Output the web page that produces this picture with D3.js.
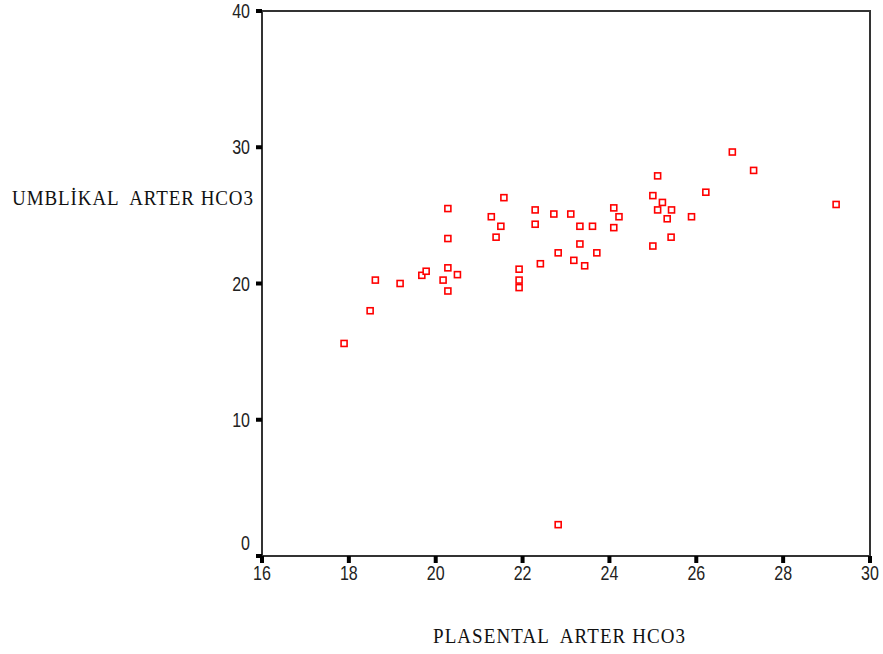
<!DOCTYPE html>
<html>
<head>
<meta charset="utf-8">
<script src="https://cdn.jsdelivr.net/npm/d3@7"></script>
<style>
  html, body { margin: 0; padding: 0; background: #fff; }
  svg { display: block; }
</style>
</head>
<body>
<svg id="chart" width="883" height="654"></svg>
<script>
// Data: plasental arter HCO3 (x) and umbilikal arter HCO3 (y)
const plasental = [17.89, 18.49, 18.61, 19.18, 19.68, 19.78, 20.17, 20.28, 20.28, 20.28,
  20.28, 20.50, 21.28, 21.39, 21.50, 21.57, 21.92, 21.92, 21.92, 22.29,
  22.29, 22.41, 22.72, 22.82, 22.82, 23.11, 23.18, 23.32, 23.32, 23.43,
  23.61, 23.71, 24.10, 24.22, 24.10, 25.00, 25.00, 25.11, 25.11, 25.22,
  25.33, 25.43, 25.42, 25.89, 26.22, 26.83, 27.32, 29.22];
const umbilikal = [15.6, 18.0, 20.25, 20.0, 20.6, 20.9, 20.25, 25.5, 23.3, 21.15,
  19.45, 20.65, 24.9, 23.4, 24.2, 26.3, 21.05, 20.25, 19.7, 25.4,
  24.35, 21.45, 25.1, 22.25, 2.3, 25.1, 21.7, 24.2, 22.9, 21.3,
  24.2, 22.25, 25.55, 24.9, 24.1, 26.45, 22.75, 27.9, 25.4, 25.95,
  24.75, 25.4, 23.4, 24.9, 26.7, 29.65, 28.3, 25.8];
const xTicks = [16, 18, 20, 22, 24, 26, 28, 30];
const yTicks = [0, 10, 20, 30, 40];
const xTitle = "PLASENTAL  ARTER HCO3";
const yTitle = "UMBLİKAL  ARTER HCO3";

const svg = d3.select("#chart");
const x = d3.scaleLinear().domain([16, 30]).range([262, 870]);
const y = d3.scaleLinear().domain([0, 40]).range([556, 11]);

// frame
svg.append("rect")
  .attr("x", x(16)).attr("y", y(40))
  .attr("width", x(30) - x(16)).attr("height", y(0) - y(40))
  .attr("fill", "none").attr("stroke", "#333").attr("stroke-width", 2);

// y ticks
const gy = svg.append("g");
gy.selectAll("rect").data(yTicks).enter().append("rect")
  .attr("x", x(16) - 6).attr("y", d => y(d) - 2)
  .attr("width", 6).attr("height", 4).attr("fill", "#000");
gy.selectAll("text").data(yTicks).enter().append("text")
  .attr("transform", d => `translate(${x(16) - 12},${y(d) + (d === 0 ? -13 : 0)}) scale(1,1.25)`)
  .attr("text-anchor", "end").attr("dy", "0.36em")
  .attr("font-family", "Liberation Sans, Arial, sans-serif")
  .attr("font-size", 16).attr("fill", "#222")
  .text(d => d);

// x ticks
const gx = svg.append("g");
gx.selectAll("rect").data(xTicks).enter().append("rect")
  .attr("x", d => x(d) - 2).attr("y", y(0))
  .attr("width", 4).attr("height", 7).attr("fill", "#000");
gx.selectAll("text").data(xTicks).enter().append("text")
  .attr("transform", d => `translate(${x(d)},${y(0) + 17}) scale(1,1.25)`)
  .attr("text-anchor", "middle").attr("dy", "0.36em")
  .attr("font-family", "Liberation Sans, Arial, sans-serif")
  .attr("font-size", 16).attr("fill", "#222")
  .text(d => d);

// points
const pts = plasental.map((v, i) => [v, umbilikal[i]]);
svg.append("g").selectAll("rect").data(pts).enter().append("rect")
  .attr("x", d => x(d[0]) - 3).attr("y", d => y(d[1]) - 3)
  .attr("width", 6).attr("height", 6)
  .attr("fill", "#fff").attr("stroke", "#ff0000").attr("stroke-width", 1.6);

// titles
svg.append("text")
  .attr("transform", "translate(12,205) scale(1,1.15)")
  .attr("font-family", "Liberation Serif, Times New Roman, serif")
  .attr("font-size", 19).attr("fill", "#111")
  .attr("textLength", 241).attr("lengthAdjust", "spacing")
  .attr("xml:space", "preserve").style("white-space", "pre")
  .text(yTitle);
svg.append("text")
  .attr("transform", "translate(433,643) scale(1,1.15)")
  .attr("font-family", "Liberation Serif, Times New Roman, serif")
  .attr("font-size", 19).attr("fill", "#111")
  .attr("textLength", 252).attr("lengthAdjust", "spacing")
  .style("white-space", "pre")
  .text(xTitle);
</script>
</body>
</html>
